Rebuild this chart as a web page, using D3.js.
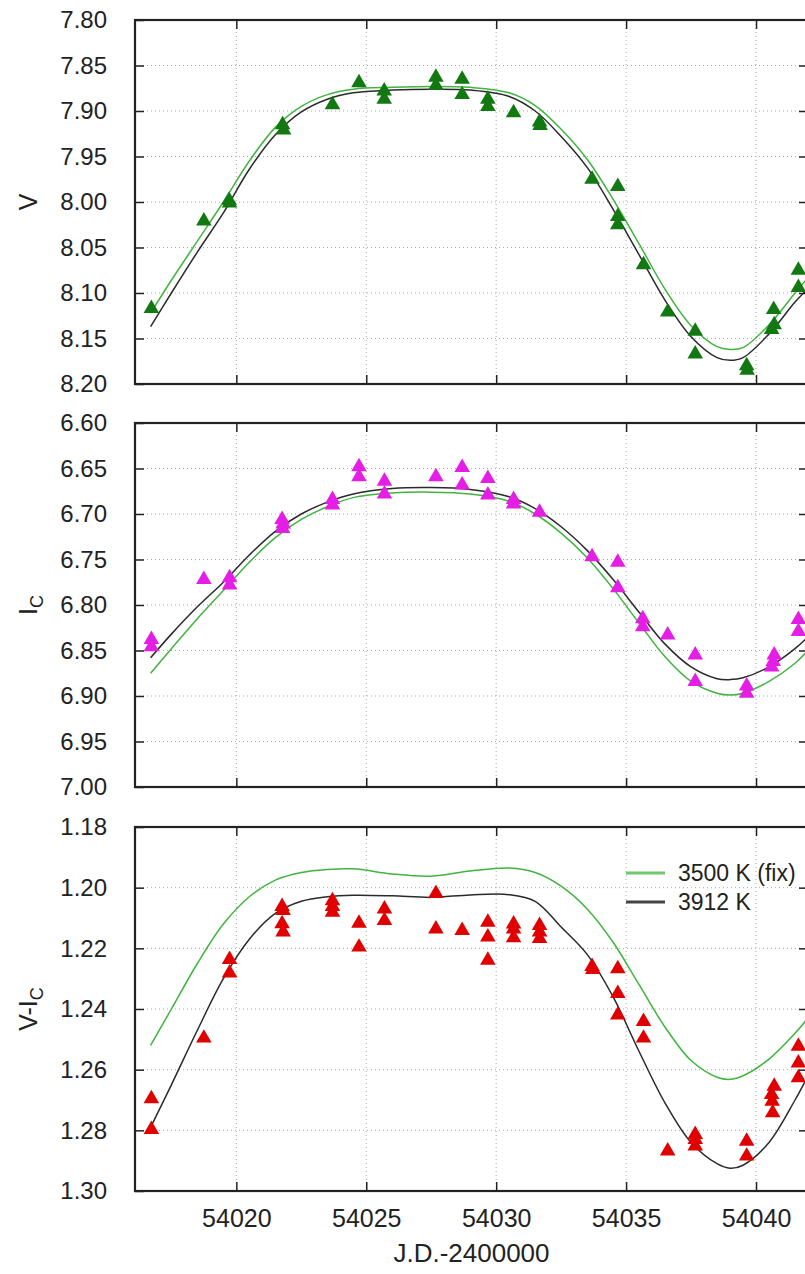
<!DOCTYPE html>
<html>
<head>
<meta charset="utf-8">
<script src="https://cdn.jsdelivr.net/npm/d3@7"></script>
<style>
  body { margin: 0; background: #fff; }
  svg { display: block; font-family: "Liberation Sans", Arial, sans-serif; }
  .grid line { stroke: #aaa; stroke-width: 1; stroke-dasharray: 1,3; }
</style>
</head>
<body>
<svg width="805" height="1274"></svg>
<script>
// x ticks shared by all panels
let xTicks = [54020, 54025, 54030, 54035, 54040];

// observations
let vDays = [54016.73, 54018.75, 54019.72, 54019.74, 54021.78, 54021.82, 54023.70, 54024.72, 54025.69, 54025.69,
    54027.68, 54027.68, 54028.69, 54028.69, 54029.68, 54029.68, 54030.67, 54031.67, 54031.69, 54033.69,
    54034.68, 54034.68, 54034.68, 54035.67, 54036.60, 54037.66, 54037.66, 54039.64, 54039.66, 54040.60,
    54040.68, 54040.70, 54041.63, 54041.63];
let vMag = [8.117, 8.021, 7.998, 8.001, 7.915, 7.921, 7.893, 7.869, 7.878, 7.887,
    7.863, 7.872, 7.865, 7.882, 7.887, 7.895, 7.902, 7.912, 7.916, 7.975,
    7.983, 8.016, 8.025, 8.069, 8.121, 8.142, 8.167, 8.180, 8.185, 8.140,
    8.118, 8.135, 8.075, 8.094];

let iDays = [54016.73, 54016.73, 54018.75, 54019.74, 54019.74, 54021.76, 54021.80, 54021.78, 54023.70, 54023.70,
    54024.72, 54024.72, 54025.70, 54025.70, 54027.68, 54028.69, 54028.69, 54029.68, 54029.68, 54030.67,
    54030.67, 54031.67, 54033.69, 54034.68, 54034.68, 54035.64, 54035.64, 54036.60, 54037.66, 54037.66,
    54039.64, 54039.64, 54040.60, 54040.66, 54040.70, 54041.63, 54041.63];
let iMag = [6.838, 6.846, 6.772, 6.770, 6.778, 6.706, 6.711, 6.716, 6.684, 6.690,
    6.648, 6.659, 6.664, 6.678, 6.659, 6.649, 6.668, 6.661, 6.679, 6.684,
    6.689, 6.698, 6.747, 6.753, 6.781, 6.815, 6.824, 6.833, 6.855, 6.884,
    6.889, 6.897, 6.868, 6.862, 6.855, 6.816, 6.829];

let viDays = [54016.73, 54016.73, 54018.75, 54019.74, 54019.74, 54021.76, 54021.80, 54021.76, 54021.80, 54023.70,
    54023.70, 54023.70, 54024.72, 54024.72, 54025.70, 54025.70, 54027.68, 54027.68, 54028.69, 54029.68,
    54029.68, 54029.68, 54030.67, 54030.67, 54030.67, 54031.67, 54031.67, 54031.67, 54033.69, 54033.72,
    54034.68, 54034.68, 54034.68, 54035.67, 54035.67, 54036.60, 54037.66, 54037.66, 54037.66, 54039.64,
    54039.64, 54040.60, 54040.62, 54040.70, 54040.64, 54041.63, 54041.63, 54041.63];
let viCol = [1.2696, 1.2797, 1.2496, 1.2237, 1.2281, 1.2062, 1.2075, 1.2119, 1.2146, 1.2043,
    1.2062, 1.2081, 1.2117, 1.2196, 1.2070, 1.2108, 1.2019, 1.2136, 1.2141, 1.2114,
    1.2163, 1.2239, 1.2120, 1.2136, 1.2165, 1.2125, 1.2146, 1.2168, 1.2260, 1.2270,
    1.2267, 1.2349, 1.2420, 1.2441, 1.2496, 1.2868, 1.2814, 1.2830, 1.2852, 1.2836,
    1.2885, 1.2682, 1.2704, 1.2655, 1.2742, 1.2523, 1.2578, 1.2627];

// model curves
let modelDays = [54016.7, 54017.5, 54018.5, 54019.5, 54020.5, 54021.5, 54022.5, 54023.5, 54024.5, 54026,
    54027.5, 54029, 54030.5, 54031.5, 54032.5, 54033.5, 54034.5, 54035.5, 54036.5, 54037.5,
    54038.5, 54039, 54039.5, 54040.5, 54041.5, 54042];
let v3500 = [8.122, 8.086, 8.043, 8.000, 7.955, 7.918, 7.895, 7.882, 7.876, 7.874,
    7.873, 7.874, 7.880, 7.894, 7.920, 7.953, 7.997, 8.046, 8.096, 8.136,
    8.159, 8.162, 8.160, 8.135, 8.100, 8.083];
let v3912 = [8.137, 8.100, 8.055, 8.012, 7.964, 7.926, 7.901, 7.887, 7.880, 7.877,
    7.876, 7.877, 7.884, 7.900, 7.928, 7.962, 8.008, 8.058, 8.108, 8.148,
    8.171, 8.174, 8.171, 8.145, 8.110, 8.095];
let i3500 = [6.875, 6.848, 6.815, 6.784, 6.753, 6.726, 6.706, 6.692, 6.682, 6.677,
    6.676, 6.678, 6.686, 6.700, 6.721, 6.748, 6.782, 6.820, 6.857, 6.884,
    6.897, 6.899, 6.897, 6.884, 6.864, 6.850];
let i3912 = [6.858, 6.832, 6.802, 6.775, 6.745, 6.719, 6.700, 6.687, 6.678, 6.672,
    6.671, 6.673, 6.681, 6.694, 6.714, 6.740, 6.772, 6.808, 6.843, 6.868,
    6.881, 6.882, 6.880, 6.868, 6.848, 6.835];
let vi3500 = [1.252, 1.240, 1.225, 1.212, 1.203, 1.1975, 1.195, 1.194, 1.1938, 1.1955,
    1.1962, 1.1945, 1.1935, 1.195, 1.1995, 1.207, 1.218, 1.232, 1.246, 1.257,
    1.2625, 1.2632, 1.262, 1.2565, 1.248, 1.243];
let vi3912 = [1.279, 1.265, 1.247, 1.230, 1.217, 1.2085, 1.2045, 1.203, 1.2025, 1.2027,
    1.2032, 1.2024, 1.2023, 1.2045, 1.213, 1.222, 1.236, 1.254, 1.271, 1.284,
    1.291, 1.2925, 1.2915, 1.284, 1.270, 1.262];

let vTicks = [7.80, 7.85, 7.90, 7.95, 8.00, 8.05, 8.10, 8.15, 8.20];
let iTicks = [6.60, 6.65, 6.70, 6.75, 6.80, 6.85, 6.90, 6.95, 7.00];
let viTicks = [1.18, 1.20, 1.22, 1.24, 1.26, 1.28, 1.30];

let legendNames = ["3500 K (fix)", "3912 K"];

let svg = d3.select("svg"),
    left = 135, right = 808,
    panelH = 364,
    green = "#3fb43f", dark = "#2a2a2a";

let x = d3.scaleLinear().domain([54016.1, 54042]).range([left, right]);

svg.append("rect").attr("width", 805).attr("height", 1274).attr("fill", "#fff");

let panels = [
    { top: 20, ticks: vTicks, days: vDays, vals: vMag, color: "#127812", m1: v3500, m2: v3912, label: ["V"] },
    { top: 423, ticks: iTicks, days: iDays, vals: iMag, color: "#e41ee4", m1: i3500, m2: i3912, label: ["I", "C"] },
    { top: 827, ticks: viTicks, days: viDays, vals: viCol, color: "#e00000", m1: vi3500, m2: vi3912, label: ["V-I", "C"] }
];

let styleTicks = a => a.selectAll("line").attr("stroke", "#222").attr("stroke-width", 1.5);

panels.forEach((p, k) => {
    let y = d3.scaleLinear()
        .domain([p.ticks[0], p.ticks[p.ticks.length - 1]])
        .range([p.top, p.top + panelH]);
    let g = svg.append("g");

    // grid
    let grid = g.append("g").attr("class", "grid");
    grid.selectAll(".gy").data(p.ticks.slice(1, -1)).join("line")
        .attr("class", "gy")
        .attr("x1", left).attr("x2", right)
        .attr("y1", d => y(d)).attr("y2", d => y(d));
    grid.selectAll(".gx").data(xTicks).join("line")
        .attr("class", "gx")
        .attr("x1", d => x(d)).attr("x2", d => x(d))
        .attr("y1", p.top).attr("y2", p.top + panelH);

    // model curves
    g.append("clipPath").attr("id", "clip" + k)
        .append("rect").attr("x", left).attr("y", p.top)
        .attr("width", right - left).attr("height", panelH);
    let line = vals => d3.line()
        .x(d => x(d))
        .y((d, i) => y(vals[i]))
        .curve(d3.curveCatmullRom.alpha(0.5))(modelDays);
    let cg = g.append("g").attr("clip-path", `url(#clip${k})`);
    cg.append("path").attr("d", line(p.m1))
        .attr("fill", "none").attr("stroke", green).attr("stroke-width", 1.5);
    cg.append("path").attr("d", line(p.m2))
        .attr("fill", "none").attr("stroke", dark).attr("stroke-width", 1.5);

    // observations
    let tri = d3.symbol(d3.symbolTriangle, 105);
    cg.selectAll(".pt").data(p.days).join("path")
        .attr("class", "pt")
        .attr("transform", (d, i) => `translate(${x(d)},${y(p.vals[i])})`)
        .attr("d", tri)
        .attr("fill", p.color);

    // frame and ticks
    g.append("rect")
        .attr("x", left).attr("y", p.top)
        .attr("width", right - left).attr("height", panelH)
        .attr("fill", "none").attr("stroke", "#222").attr("stroke-width", 2.2);
    g.append("g").call(d3.axisLeft(y).tickValues(p.ticks).tickSize(-9).tickPadding(28).tickFormat(d3.format(".2f")))
        .attr("transform", `translate(${left},0)`)
        .call(a => a.select(".domain").remove())
        .call(styleTicks)
        .call(a => a.selectAll("text").attr("fill", "#222").attr("font-size", 24)
            .attr("font-family", "Liberation Sans, Arial, sans-serif"));
    g.append("g").call(d3.axisRight(y).tickValues(p.ticks.slice(1, -1)).tickSize(-9).tickFormat(""))
        .attr("transform", `translate(${right},0)`)
        .call(a => a.select(".domain").remove())
        .call(styleTicks);
    g.append("g").call(d3.axisTop(x).tickValues(xTicks).tickSize(-9).tickFormat(""))
        .attr("transform", `translate(0,${p.top})`)
        .call(a => a.select(".domain").remove())
        .call(styleTicks);
    g.append("g").call(d3.axisBottom(x).tickValues(xTicks).tickSize(-9)
            .tickPadding(k === 2 ? 18 : 0).tickFormat(k === 2 ? d3.format("d") : ""))
        .attr("transform", `translate(0,${p.top + panelH})`)
        .call(a => a.select(".domain").remove())
        .call(styleTicks)
        .call(a => a.selectAll("text").attr("fill", "#222").attr("font-size", 25)
            .attr("font-family", "Liberation Sans, Arial, sans-serif"));

    // y title
    let t = svg.append("text")
        .attr("transform", `translate(37,${p.top + panelH / 2}) rotate(-90)`)
        .attr("text-anchor", "middle")
        .attr("font-size", 25).attr("fill", "#222");
    t.append("tspan").text(p.label[0]);
    if (p.label[1]) t.append("tspan").attr("font-size", 18).attr("dy", 6).text(p.label[1]);
});

// x title
svg.append("text")
    .attr("x", (left + right) / 2).attr("y", 1262)
    .attr("text-anchor", "middle")
    .attr("font-size", 26).attr("fill", "#222")
    .text("J.D.-2400000");

// legend in the bottom panel
let leg = svg.append("g").attr("transform", "translate(626,873)");
leg.selectAll("line").data(legendNames).join("line")
    .attr("x1", 0).attr("x2", 39)
    .attr("y1", (d, i) => i * 29).attr("y2", (d, i) => i * 29)
    .attr("stroke", (d, i) => i ? "#444" : "#6fc86f")
    .attr("stroke-width", 3);
leg.selectAll("text").data(legendNames).join("text")
    .attr("x", 52).attr("y", (d, i) => i * 29 + 8)
    .attr("font-size", 23).attr("fill", "#222")
    .text(d => d);
</script>
</body>
</html>
